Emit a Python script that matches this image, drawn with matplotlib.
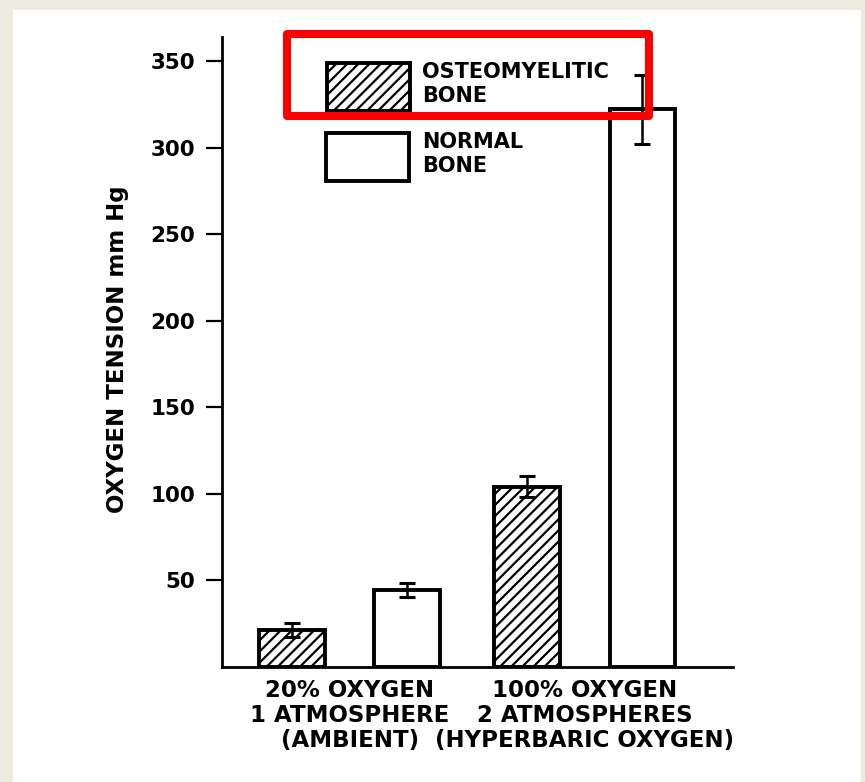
import matplotlib.pyplot as plt
from matplotlib.patches import Rectangle

# oxygen tension (mm Hg)
groups = ["20% OXYGEN\n1 ATMOSPHERE\n(AMBIENT)",
          "100% OXYGEN\n2 ATMOSPHERES\n(HYPERBARIC OXYGEN)"]
osteo_vals = [21, 104]
osteo_err = [4, 6]
normal_vals = [44, 322]
normal_err = [4, 20]
y_ticks = [50, 100, 150, 200, 250, 300, 350]
legend_labels = ["OSTEOMYELITIC\nBONE", "NORMAL\nBONE"]

W, H = 865, 782
plt.rcParams['font.family'] = 'DejaVu Sans'
plt.rcParams['hatch.linewidth'] = 1.6


def fx(px):
    return px / W


def fy(py):
    return 1 - py / H


fig = plt.figure(figsize=(W / 100, H / 100), dpi=100)
fig.patch.set_facecolor('#edeae0')
# white page
fig.patches.append(Rectangle((fx(13), 0), fx(861) - fx(13), fy(10), transform=fig.transFigure,
                             facecolor='white', edgecolor='none', zorder=-5))

ax = fig.add_axes([fx(222), fy(666.5), fx(733) - fx(222), fy(36.8) - fy(666.5)])
ax.set_facecolor('none')
ax.set_zorder(2)

off = 0.245
bw = 0.28
xs = range(len(groups))
x_osteo = [x - off for x in xs]
x_norm = [x + off for x in xs]

ax.bar(x_osteo, osteo_vals, width=bw, facecolor='white', edgecolor='black',
       linewidth=2.8, hatch='///')
ax.bar(x_norm, normal_vals, width=bw, facecolor='white', edgecolor='black',
       linewidth=2.8)
ax.errorbar(x_osteo, osteo_vals, yerr=osteo_err, fmt='none', ecolor='black',
            elinewidth=1.8, capsize=6, capthick=2.2)
ax.errorbar(x_norm, normal_vals, yerr=normal_err, fmt='none', ecolor='black',
            elinewidth=1.8, capsize=6, capthick=2.2)

ax.set_xlim(-0.543, 1.630)
ax.set_ylim(0, 364)
ax.spines['top'].set_visible(False)
ax.spines['right'].set_visible(False)
ax.spines['left'].set_linewidth(2)
ax.spines['bottom'].set_linewidth(2)

ax.set_yticks(y_ticks)
ax.set_yticklabels([str(t) for t in y_ticks], fontsize=15.5, fontweight='bold')
ax.tick_params(axis='y', length=11.5, width=1.6, pad=8)
ax.set_xticks(list(xs))
ax.set_xticklabels(groups, fontsize=16.5, fontweight='bold', linespacing=1.1)
ax.tick_params(axis='x', length=0, pad=9)

fig.text(fx(118), fy(349), "OXYGEN TENSION mm Hg", rotation=90, ha='center', va='center',
         fontsize=16.5, fontweight='bold')

# legend drawn by hand
boxes = [(326.7, 63, '///'), (326, 133, None)]
for (bx, by, hatch), lab in zip(boxes, legend_labels):
    fig.patches.append(Rectangle((fx(bx), fy(by + 48)), fx(83), 48 / H, transform=fig.transFigure,
                                 facecolor='white', edgecolor='black', linewidth=2.8,
                                 hatch=hatch, zorder=3))
    fig.text(fx(422), fy(by - 1), lab, ha='left', va='top', fontsize=15, fontweight='bold',
             linespacing=1.25)

# red highlight frame
fig.patches.append(Rectangle((fx(287), fy(116)), fx(649) - fx(287), fy(34) - fy(116),
                             transform=fig.transFigure, facecolor='none', edgecolor='#ff0000',
                             linewidth=5.8, joinstyle='round', zorder=5))

fig.savefig('out.png', dpi=100, facecolor=fig.get_facecolor())
